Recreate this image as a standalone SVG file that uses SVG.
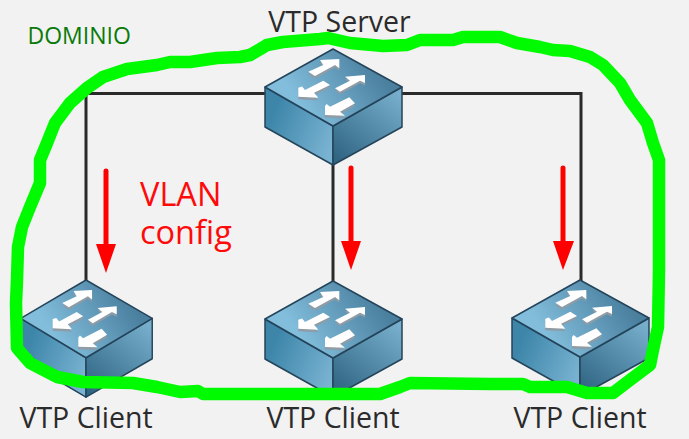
<svg xmlns="http://www.w3.org/2000/svg" width="689" height="439" viewBox="0 0 689 439">
<style>
.lbl{font-family:"Open Sans","Noto Sans",sans-serif;font-size:28.5px;fill:#2b2b2b;text-anchor:middle}
.red{font-family:"Open Sans","Noto Sans",sans-serif;font-size:32.500px;fill:#ff0a0a}
.edge{stroke:#2a2a2a;stroke-width:3;fill:none}
.rl{stroke:#ff0000;stroke-width:5;fill:none;stroke-linecap:round}
.rh{fill:#ff0000}
.f{stroke:#24445a;stroke-width:1.5;stroke-linejoin:round}
</style>
<defs>
<linearGradient id="gt" gradientUnits="userSpaceOnUse" x1="-30" y1="60" x2="40" y2="12"><stop offset="0" stop-color="#82bddc"/><stop offset="1" stop-color="#4a7f9e"/></linearGradient>
<linearGradient id="gl" gradientUnits="userSpaceOnUse" x1="-62" y1="70" x2="0" y2="95"><stop offset="0" stop-color="#3d86aa"/><stop offset="1" stop-color="#7ab3d2"/></linearGradient>
<linearGradient id="gr" gradientUnits="userSpaceOnUse" x1="5" y1="112" x2="62" y2="42"><stop offset="0" stop-color="#2f6583"/><stop offset="1" stop-color="#76aeCC"/></linearGradient>
<g id="sw">
<polygon class="f" points="-68,38 0,77 0,116 -68,78" fill="url(#gl)"/>
<polygon class="f" points="69,38 0,77 0,116 69,78" fill="url(#gr)"/>
<polygon class="f" points="0,0 69,38 0,77 -68,38" fill="url(#gt)"/>
<g fill="#8f9ca5" transform="translate(0,2.5)">
<polygon points="-24.7,22.7 -9.7,16 -13,11 6.3,10 6.3,19.3 2,16 -18,27"/>
<polygon points="2,39.3 17,31.7 12,27.7 32,26 32,34 27,31.7 7,42.7"/>
<polygon points="-34.7,38.7 -34.7,47.7 -14.7,48.7 -19,43.7 -3,36 -9.7,31.7 -28,41 -31,37.5"/>
<polygon points="-8,57 -8,66 12,66.7 7,62.7 22,54.3 16.3,48.3 -3,57.7 -6.3,55"/>
</g>
<g fill="#fff">
<polygon points="-24.7,22.7 -9.7,16 -13,11 6.3,10 6.3,19.3 2,16 -18,27"/>
<polygon points="2,39.3 17,31.7 12,27.7 32,26 32,34 27,31.7 7,42.7"/>
<polygon points="-34.7,38.7 -34.7,47.7 -14.7,48.7 -19,43.7 -3,36 -9.7,31.7 -28,41 -31,37.5"/>
<polygon points="-8,57 -8,66 12,66.7 7,62.7 22,54.3 16.3,48.3 -3,57.7 -6.3,55"/>
</g>
</g>
</defs>
<rect width="689" height="439" fill="#f2f2f2"/>
<g id="connectors">
<path class="edge" d="M265 93.500H86V282"/>
<path class="edge" d="M402 93.500H581V282"/>
<path class="edge" d="M333 165V283"/>
<path class="rl" d="M106 171V246"/><polygon class="rh" points="96,244 116,244 106,273"/>
<path class="rl" d="M351 168V243"/><polygon class="rh" points="341,241 361,241 351,270"/>
<path class="rl" d="M563 168V243"/><polygon class="rh" points="553,241 574,241 563,270"/>
</g>
<g id="server"><use href="#sw" transform="translate(333,49)"/><text class="lbl" x="339.500" y="32">VTP Server</text></g>
<g id="client1"><use href="#sw" transform="translate(86,280) scale(.96,1.01)"/><text class="lbl" x="86" y="428">VTP Client</text></g>
<g id="client2"><use href="#sw" transform="translate(333,281)"/><text class="lbl" x="333" y="428">VTP Client</text></g>
<g id="client3"><use href="#sw" transform="translate(580,280)"/><text class="lbl" x="580" y="428">VTP Client</text></g>
<text x="27.500" y="43.500" font-family="'Open Sans','Noto Sans',sans-serif" font-size="23" fill="#0a7a0a">DOMINIO</text>
<text class="red"><tspan x="140" y="206">VLAN</tspan><tspan x="140" y="244">config</tspan></text>
<polyline id="boundary" fill="none" stroke="#00fb00" stroke-width="12.500" stroke-linecap="round" stroke-linejoin="round" points="250,55 267,45 283,42 320,39 328,38 350,43 383,46 407,45 420,40 453,40 463,37 500,37 517,43 540,47 553,50 570,51 590,57 603,65 620,83 630,100 647,123 653,143 659,160 659,270 658,327 653,350 650,365 630,380 613,393 587,393 567,387 530,387 523,384 490,384 410,383 400,387 380,394 203,394 198,391 180,392 157,387 133,383 83,382 57,377 30,363 17,348 16,303 17,280 18,247 22,227 30,207 40,183 40,160 47,143 55,123 70,103 87,88 103,77 127,69 157,65 170,62 190,62 217,58 240,57 250,55"/>
</svg>
